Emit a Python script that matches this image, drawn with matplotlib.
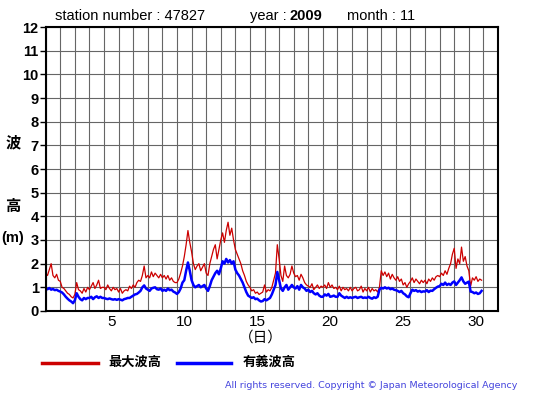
import matplotlib.pyplot as plt
import numpy as np

plt.switch_backend('agg')
plt.rcParams['font.family'] = ['Liberation Sans', 'Noto Sans CJK JP', 'DejaVu Sans']

# 3-hourly readings, one row per day of November 2009 (metres)
max_wave = [
    1.6, 1.5, 1.75, 2.0, 1.5, 1.4, 1.55, 1.3,
    1.25, 1.0, 0.95, 0.85, 0.75, 0.7, 0.6, 0.55,
    0.7, 1.2, 0.9, 0.85, 0.75, 0.95, 0.8, 1.0,
    0.9, 1.05, 1.2, 0.95, 1.1, 1.3, 0.95, 1.0,
    1.0, 0.9, 1.1, 0.95, 0.85, 1.0, 0.9, 0.95,
    0.8, 0.95, 0.75, 0.85, 0.9, 0.85, 1.05, 0.95,
    1.1, 1.0, 1.2, 1.3, 1.25, 1.5, 1.9, 1.4,
    1.5, 1.4, 1.65, 1.45, 1.6, 1.5, 1.4, 1.55,
    1.4, 1.5, 1.35, 1.5, 1.3, 1.4, 1.25, 1.2,
    1.2, 1.35, 1.6, 1.9, 2.3, 2.8, 3.4, 2.9,
    2.5, 2.0, 1.75, 1.9, 2.0, 1.7, 1.85, 2.0,
    1.6, 1.5, 2.0, 2.3, 2.6, 2.8, 2.2, 2.6,
    3.0, 3.3, 2.9, 3.4, 3.75, 3.2, 3.5, 3.0,
    2.6, 2.4, 2.2, 2.0, 1.7, 1.5, 1.25, 1.1,
    1.0, 0.85, 0.9, 0.75, 0.8, 0.7, 0.75, 0.8,
    1.1, 0.8, 0.9, 0.85, 1.0, 1.3, 1.6, 2.8,
    2.2, 1.5, 1.25, 1.9, 1.5, 1.4, 1.55, 1.9,
    1.6, 1.45, 1.5, 1.3, 1.55, 1.4, 1.2, 1.1,
    1.05, 1.0, 1.15, 0.9, 1.0, 1.1, 0.95, 1.05,
    1.0, 1.1, 0.95, 1.2, 1.0, 1.1, 0.95, 1.0,
    0.9, 1.05, 0.85, 1.0, 0.9, 0.95, 0.85, 1.0,
    0.85, 0.95, 1.0, 0.85, 0.9, 1.05, 0.8, 0.95,
    0.85, 1.0, 0.8, 0.95, 0.85, 0.9, 0.8, 1.0,
    1.7, 1.5, 1.65, 1.45, 1.6, 1.35, 1.55, 1.4,
    1.3, 1.45, 1.25, 1.35, 1.1, 1.2, 1.0, 1.15,
    1.25, 1.4, 1.2, 1.35, 1.25, 1.15, 1.3, 1.2,
    1.3, 1.15, 1.35, 1.25, 1.4, 1.3, 1.45, 1.5,
    1.45, 1.6, 1.5, 1.7, 1.55, 1.8, 2.0, 2.4,
    2.65, 1.8, 2.2, 2.0, 2.7, 2.1, 2.3, 1.9,
    1.7, 1.05, 1.4, 1.3, 1.45, 1.25, 1.35, 1.3,
]

sig_wave = [
    0.95, 0.92, 0.97, 0.90, 0.93, 0.88, 0.90, 0.85,
    0.82, 0.78, 0.70, 0.60, 0.52, 0.45, 0.40, 0.33,
    0.45, 0.75, 0.60, 0.50, 0.45, 0.55, 0.50, 0.55,
    0.55, 0.60, 0.50, 0.58, 0.62, 0.55, 0.60, 0.55,
    0.55, 0.52, 0.50, 0.53, 0.50, 0.48, 0.50, 0.47,
    0.50, 0.48, 0.45, 0.50, 0.52, 0.55, 0.55, 0.60,
    0.65, 0.70, 0.72, 0.78, 0.85, 1.00, 1.08, 0.95,
    0.90, 0.85, 0.95, 0.98, 1.00, 0.92, 0.90, 0.95,
    0.85, 0.90, 0.85, 0.95, 0.88, 0.90, 0.82, 0.78,
    0.72, 0.80, 0.95, 1.20, 1.30, 1.70, 2.05, 1.70,
    1.30, 1.10, 1.00, 1.05, 1.10, 1.00, 1.05, 1.10,
    0.95, 0.85, 1.05, 1.30, 1.45, 1.60, 1.70, 1.55,
    1.80, 2.10, 2.00, 2.20, 2.05, 2.15, 2.00, 2.10,
    1.75, 1.60, 1.50, 1.35, 1.20, 1.00, 0.80, 0.65,
    0.60, 0.55, 0.58, 0.50, 0.52, 0.45, 0.40, 0.42,
    0.50, 0.45, 0.50, 0.55, 0.70, 0.90, 1.10, 1.65,
    1.30, 0.95, 0.85, 1.00, 1.10, 0.90, 1.00, 1.10,
    1.00, 0.95, 1.05, 0.90, 1.10, 1.00, 0.95, 0.85,
    0.90, 0.80, 0.85, 0.75, 0.70, 0.75, 0.65, 0.60,
    0.60, 0.70, 0.65, 0.72, 0.60, 0.62, 0.65, 0.60,
    0.60, 0.75, 0.65, 0.60, 0.55, 0.60, 0.55, 0.58,
    0.55, 0.58, 0.60, 0.55, 0.58, 0.60, 0.55, 0.57,
    0.55, 0.60, 0.55, 0.52, 0.58, 0.55, 0.60, 0.90,
    0.98, 0.95, 1.00, 0.95, 0.98, 0.92, 0.95, 0.90,
    0.88, 0.85, 0.80, 0.85, 0.75, 0.70, 0.62, 0.58,
    0.75, 0.90, 0.85, 0.88, 0.82, 0.85, 0.80, 0.83,
    0.82, 0.88, 0.80, 0.86, 0.85, 0.92, 0.98, 1.03,
    1.05, 1.15, 1.10, 1.20, 1.10, 1.15, 1.10, 1.20,
    1.25, 1.10, 1.20, 1.30, 1.42, 1.25, 1.15, 1.20,
    1.24, 0.82, 0.80, 0.75, 0.78, 0.72, 0.75, 0.85,
]

day_ticks = [5, 10, 15, 20, 25, 30]
y_ticks = list(range(0, 13))

t = np.arange(len(max_wave)) / 8.0  # days since Nov 1 00:00

fig = plt.figure(figsize=(5.55, 3.95), dpi=100)
ax = fig.add_axes([0.0823, 0.2127, 0.815, 0.7189])

ax.plot(t, max_wave, color='#cc0000', lw=0.9)
ax.plot(t, sig_wave, color='#0000ff', lw=1.8)

ax.set_xlim(0, 31)
ax.set_ylim(0, 12)
ax.set_xticks(np.arange(0, 32), minor=True)
ax.set_xticks([d - 0.5 for d in day_ticks])
ax.set_xticklabels([str(d) for d in day_ticks], fontsize=11)
ax.tick_params(axis='x', which='both', length=0, pad=3)
ax.set_yticks(y_ticks)
ax.set_yticklabels([str(v) for v in y_ticks], fontsize=10.5, fontweight='bold')
ax.tick_params(axis='y', length=4, width=1, pad=1)
ax.grid(True, which='minor', axis='x', color='#666666', lw=0.8)
ax.grid(True, which='major', axis='y', color='#666666', lw=0.8)
for s in ax.spines.values():
    s.set_linewidth(1.5)

# titles
fig.text(55 / 555, 1 - 16 / 395, 'station number : 47827', fontsize=10.5, va='center')
fig.text(250 / 555, 1 - 16 / 395, 'year : ', fontsize=10.5, va='center')
fig.text(290 / 555, 1 - 16 / 395, '2009', fontsize=10.5, va='center', fontweight='bold')
fig.text(347 / 555, 1 - 16 / 395, 'month : 11', fontsize=10.5, va='center')

# y label
fig.text(13 / 555, 1 - 143 / 395, '波', fontsize=11, fontweight='bold', ha='center', va='center')
fig.text(13 / 555, 1 - 207 / 395, '高', fontsize=11, fontweight='bold', ha='center', va='center')
fig.text(12.5 / 555, 1 - 238 / 395, '(m)', fontsize=10.5, fontweight='bold', ha='center', va='center')
fig.text(261 / 555, 1 - 338 / 395, '（日）', fontsize=10.5, ha='center', va='center',
         family=['Noto Sans CJK JP', 'DejaVu Sans'])

# legend
fig.add_artist(plt.Line2D([42 / 555, 98 / 555], [1 - 363 / 395] * 2, color='#cc0000', lw=2.5))
fig.text(108 / 555, 1 - 363 / 395, '最大波高', fontsize=9.5, fontweight='bold', va='center')
fig.add_artist(plt.Line2D([177 / 555, 231 / 555], [1 - 363 / 395] * 2, color='#0000ff', lw=2.5))
fig.text(243 / 555, 1 - 363 / 395, '有義波高', fontsize=9.5, fontweight='bold', va='center')

fig.text(517 / 555, 1 - 385 / 395, 'All rights reserved. Copyright © Japan Meteorological Agency',
         fontsize=6.8, color='#4444dd', ha='right', va='center', family='DejaVu Sans')

plt.savefig('out.png', dpi=100)
